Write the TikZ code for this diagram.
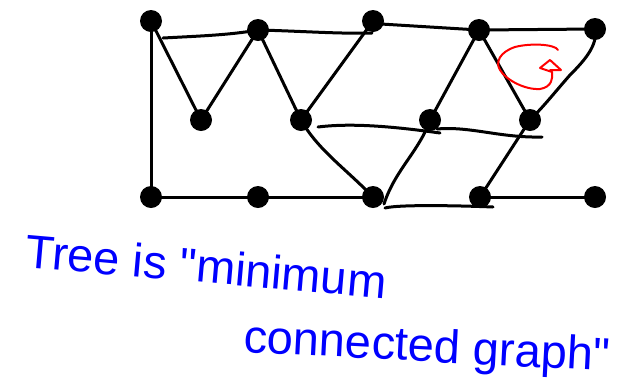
\documentclass[tikz,border=0pt]{standalone}
\usepackage{fontspec}
\newfontfamily\handfont{Liberation Sans}
\begin{document}
\begin{tikzpicture}[x=1pt,y=-1pt,
  vtx/.style={circle,fill=black,inner sep=0pt,minimum size=22pt},
  edge/.style={line width=3pt,line cap=round,line join=round},
  sketch/.style={line width=3pt,line cap=round,line join=round},
  hand/.style={text=blue,font=\handfont\fontsize{47}{47}\selectfont,inner sep=0pt},
  redmark/.style={red,line width=2pt,line cap=round,line join=round}]
\useasboundingbox (0,0) rectangle (628,384);
% vertices
\node[vtx] (A) at (151,21) {};
\node[vtx] (B) at (258,30) {};
\node[vtx] (C) at (373,21) {};
\node[vtx] (D) at (479,30) {};
\node[vtx] (E) at (595,29) {};
\node[vtx] (F) at (201,120) {};
\node[vtx] (G) at (301,120) {};
\node[vtx] (H) at (430,120) {};
\node[vtx] (I) at (530,120) {};
\node[vtx] (J) at (151,197) {};
\node[vtx] (K) at (258,197) {};
\node[vtx] (L) at (373,197) {};
\node[vtx] (M) at (480,197) {};
\node[vtx] (N) at (595,197) {};
% free ends of the sketched strokes
\coordinate (t1) at (163,38);
\coordinate (t2) at (372,33);
\coordinate (m1) at (318,127);
\coordinate (m2) at (440,133);
\coordinate (m3) at (437,129);
\coordinate (m4) at (542,137);
\coordinate (b1) at (385,208);
\coordinate (b2) at (493,207);
% straight edges
\draw[edge] (A.center) -- (J.center) -- (K.center) -- (L.center);
\draw[edge] (M.center) -- (N.center);
\draw[edge] (A.center) -- (F.center) -- (B.center) -- (G.center);
\draw[edge] (G.center) -- (C.center);
\draw[edge] (C.center) ++(8,3) -- (D.center) -- (E.center);
\draw[edge] (D.center) -- (H.center);
\draw[edge] (D.center) -- (I.center);
\draw[edge] (I.center) -- (M.center);
% curved edges
\draw[edge] (G.center) .. controls (318,150) and (345,168) .. (L.center);
\draw[edge] (H.center) .. controls (420,150) and (395,170) .. (384,204);
\draw[edge] (E.center) .. controls (598,45) and (585,60) .. (570,75)
  .. controls (555,92) and (545,105) .. (I.center);
% sketched strokes
\draw[sketch] (t1) .. controls (200,36) and (230,35) .. (B.center)
  .. controls (300,31) and (340,34) .. (t2);
\draw[sketch] (m1) .. controls (350,123) and (390,126) .. (m2);
\draw[sketch] (m3) .. controls (470,126) and (500,138) .. (m4);
\draw[sketch] (b1) .. controls (400,204) and (470,206) .. (b2);
% red G
\draw[redmark] (558,50) .. controls (555,44) and (530,43) .. (515,47)
  .. controls (500,52) and (495,62) .. (500,70)
  .. controls (506,80) and (525,90) .. (540,89)
  .. controls (552,87) and (553,78) .. (552,72)
  -- (540,68) -- (550,60) -- (561,70) -- (550,70);
% text
\node[hand,anchor=base west,rotate=-5] (txt1) at (24,267) {Tree is "minimum};
\node[hand,anchor=base west,rotate=-3] (txt2) at (243,352) {connected graph"};
\end{tikzpicture}
\end{document}
